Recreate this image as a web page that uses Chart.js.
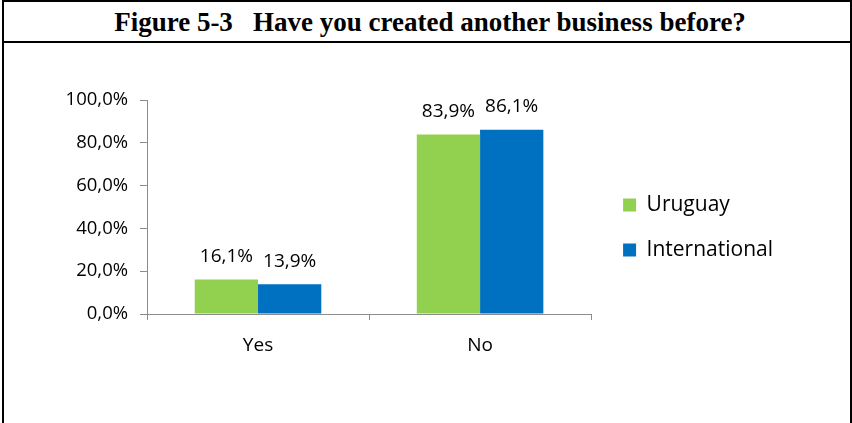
<!DOCTYPE html>
<html>
<head>
<meta charset="utf-8">
<script src="https://cdn.jsdelivr.net/npm/chart.js@4"></script>
<style>
  body { margin: 0; background: #fff; }
  #frame {
    position: absolute; left: 2px; top: 0; width: 846px; height: 425px;
    border: 2px solid #000; border-bottom: none; background: #fff;
  }
  #title {
    height: 41px; border-bottom: 2px solid #000;
    font: bold 27px "Liberation Serif", "Times New Roman", serif;
    text-align: center; line-height: 40px; color: #000;
    white-space: pre; padding-left: 6px; box-sizing: border-box;
  }
  #wrap { position: relative; width: 846px; height: 380px; }
</style>
</head>
<body>
<div id="frame">
  <div id="title">Figure 5-3   Have you created another business before?</div>
  <div id="wrap"><canvas id="chart"></canvas></div>
</div>
<script>
const categories = ["Yes", "No"];
const uruguay = [16.1, 83.9];
const international = [13.9, 86.1];
const yTicks = [0, 20, 40, 60, 80, 100];

const pct = (v) => v.toFixed(1).replace(".", ",") + "%";
const font = "'Open Sans', Lato, sans-serif";

// value labels above every bar
const barLabels = {
  id: "barLabels",
  afterDatasetsDraw(chart) {
    const ctx = chart.ctx;
    ctx.save();
    ctx.font = "19px " + font;
    ctx.fillStyle = "#000";
    ctx.textAlign = "center";
    ctx.textBaseline = "middle";
    chart.data.datasets.forEach((ds, i) => {
      chart.getDatasetMeta(i).data.forEach((bar, j) => {
        ctx.fillText(pct(ds.data[j]), bar.x, bar.y - 23);
      });
    });
    ctx.restore();
  },
};

// move the legend closer to the plot and up a little
const legendShift = {
  id: "legendShift",
  afterLayout(chart) {
    chart.legend.left += 8;
    chart.legend.right += 8;
    chart.legend.top -= 34;
    chart.legend.bottom -= 34;
  },
};

new Chart(document.getElementById("chart"), {
  type: "bar",
  data: {
    labels: categories,
    datasets: [
      {
        label: "Uruguay",
        data: uruguay,
        backgroundColor: "#92D050",
        categoryPercentage: 0.57,
        barPercentage: 1,
      },
      {
        label: "International",
        data: international,
        backgroundColor: "#0070C0",
        categoryPercentage: 0.57,
        barPercentage: 1,
      },
    ],
  },
  options: {
    responsive: true,
    maintainAspectRatio: false,
    animation: false,
    layout: { padding: { top: 57, left: 0, right: 75, bottom: 0 } },
    scales: {
      x: {
        grid: { drawOnChartArea: false, drawTicks: true, tickLength: 6, color: "#8c8c8c" },
        border: { color: "#8c8c8c" },
        ticks: { color: "#000", font: { family: font, size: 19 }, padding: 14 },
        afterFit(scale) { scale.height = 109; },
      },
      y: {
        min: 0,
        max: 100,
        afterBuildTicks(scale) { scale.ticks = yTicks.map((v) => ({ value: v })); },
        grid: { drawOnChartArea: false, drawTicks: true, tickLength: 7, color: "#8c8c8c" },
        border: { color: "#8c8c8c" },
        ticks: { color: "#000", font: { family: font, size: 18.5 }, padding: 12, callback: (v) => pct(v) },
        afterFit(scale) { scale.width = 143; },
      },
    },
    plugins: {
      legend: {
        position: "right",
        labels: {
          boxWidth: 13,
          boxHeight: 13,
          padding: 24,
          color: "#000",
          font: { family: font, size: 21 },
        },
      },
      tooltip: { enabled: false },
    },
  },
  plugins: [barLabels, legendShift],
});
</script>
</body>
</html>
